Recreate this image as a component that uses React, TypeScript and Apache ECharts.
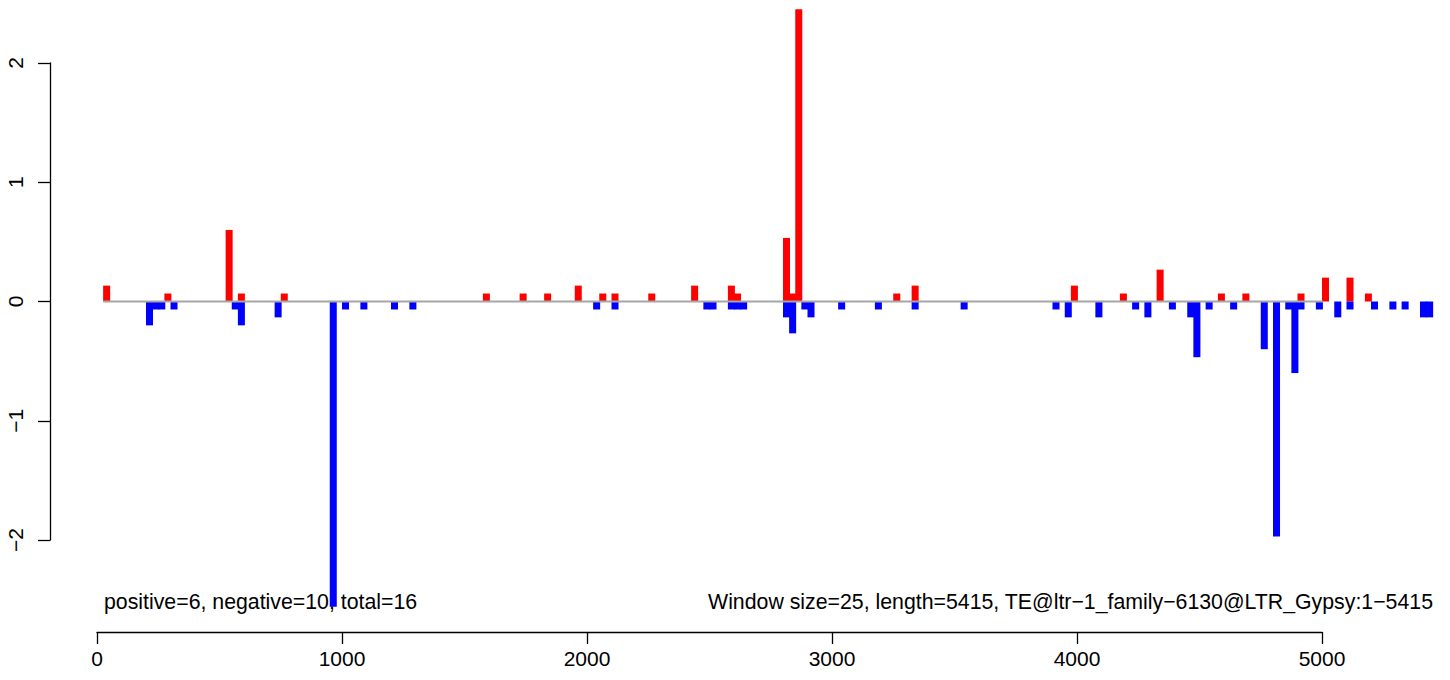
import React, { useEffect, useRef } from "react";
import * as echarts from "echarts";

const WINDOW = 25;
const X_TICKS_MAX = 5000;

const posStart = [25, 275, 525, 575, 750, 1575, 1725, 1825, 1950, 2050, 2100, 2250, 2425, 2575, 2600, 2800, 2825, 2850, 3250, 3325, 3975, 4175, 4325, 4575, 4675, 4900, 5000, 5100, 5175];
const posVal = [0.133, 0.067, 0.6, 0.067, 0.067, 0.067, 0.067, 0.067, 0.133, 0.067, 0.067, 0.067, 0.133, 0.133, 0.067, 0.533, 0.067, 2.45, 0.067, 0.133, 0.133, 0.067, 0.267, 0.067, 0.067, 0.067, 0.2, 0.2, 0.067];

const negStart = [200, 225, 250, 300, 550, 575, 725, 950, 1000, 1075, 1200, 1275, 2025, 2100, 2475, 2500, 2575, 2600, 2625, 2800, 2825, 2875, 2900, 3025, 3175, 3325, 3525, 3900, 3950, 4075, 4225, 4275, 4375, 4450, 4475, 4525, 4625, 4750, 4800, 4850, 4875, 4900, 4975, 5050, 5100, 5200, 5275, 5325, 5400, 5425];
const negVal = [-0.2, -0.067, -0.067, -0.067, -0.067, -0.2, -0.133, -2.56, -0.067, -0.067, -0.067, -0.067, -0.067, -0.067, -0.067, -0.067, -0.067, -0.067, -0.067, -0.133, -0.267, -0.067, -0.133, -0.067, -0.067, -0.067, -0.067, -0.067, -0.133, -0.133, -0.067, -0.133, -0.067, -0.133, -0.467, -0.067, -0.067, -0.4, -1.97, -0.067, -0.6, -0.067, -0.067, -0.133, -0.067, -0.067, -0.067, -0.067, -0.133, -0.133];

const zeroLine = [[25, 0], [5450, 0]];

const leftNote = "positive=6, negative=10, total=16";
const rightNote = "Window size=25, length=5415, TE@ltr\u22121_family\u22126130@LTR_Gypsy:1\u22125415";

const FONT = "'Liberation Sans', Arial, Helvetica, sans-serif";
const FS = 21;
const NOTE_FS = 21.3;

function barRenderer(color: string) {
  return (params: any, api: any) => {
    const s = api.value(0);
    const v = api.value(1);
    const p0 = api.coord([s, 0]);
    const p1 = api.coord([s + WINDOW, v]);
    return {
      type: "rect",
      shape: {
        x: p0[0],
        y: Math.min(p0[1], p1[1]),
        width: p1[0] - p0[0] + 0.9,
        height: Math.abs(p1[1] - p0[1]),
      },
      style: { fill: color },
    };
  };
}

export default function App() {
  const ref = useRef<HTMLDivElement>(null);
  useEffect(() => {
    document.body.style.margin = "0";
    const chart = echarts.init(ref.current!, null, { renderer: "svg" });
    chart.setOption({
      animation: false,
      backgroundColor: "#ffffff",
      grid: { left: 97, top: 63, width: 1225, height: 477 },
      xAxis: {
        type: "value",
        min: 0,
        max: X_TICKS_MAX,
        interval: 1000,
        offset: 92,
        axisLine: { show: true, onZero: false, lineStyle: { color: "#000", width: 1.3 } },
        axisTick: { show: true, inside: false, length: 12, lineStyle: { color: "#000", width: 1.3 } },
        axisLabel: { fontSize: FS, color: "#000", margin: 16, fontFamily: FONT, formatter: (v: number) => String(v) },
        splitLine: { show: false },
      },
      yAxis: {
        type: "value",
        min: -2,
        max: 2,
        interval: 1,
        offset: 47,
        axisLine: { show: true, onZero: false, lineStyle: { color: "#000", width: 1.3 } },
        axisTick: { show: true, inside: false, length: 12, lineStyle: { color: "#000", width: 1.3 } },
        axisLabel: { fontSize: FS, color: "#000", margin: 24, rotate: 90, fontFamily: FONT, formatter: (v: number) => String(v).replace("-", "\u2212") },
        splitLine: { show: false },
      },
      series: [
        {
          type: "custom",
          clip: false,
          renderItem: barRenderer("#ff0000"),
          data: posStart.map((s, i) => [s, posVal[i]]),
          z: 2,
        },
        {
          type: "custom",
          clip: false,
          renderItem: barRenderer("#0000ff"),
          data: negStart.map((s, i) => [s, negVal[i]]),
          z: 2,
        },
        {
          type: "line",
          clip: false,
          data: zeroLine,
          showSymbol: false,
          symbol: "none",
          lineStyle: { color: "#a6a6a6", width: 2 },
          z: 3,
        },
      ],
      graphic: [
        {
          type: "text",
          x: 104,
          y: 602,
          z: 10,
          style: { text: leftNote, fontSize: NOTE_FS, fontFamily: FONT, fill: "#000", align: "left", verticalAlign: "middle" },
        },
        {
          type: "text",
          x: 1433,
          y: 602,
          z: 10,
          style: { text: rightNote, fontSize: NOTE_FS, fontFamily: FONT, fill: "#000", align: "right", verticalAlign: "middle" },
        },
      ],
    });
    return () => chart.dispose();
  }, []);
  return <div ref={ref} style={{ position: "fixed", left: 0, top: 0, width: 1450, height: 680 }} />;
}
